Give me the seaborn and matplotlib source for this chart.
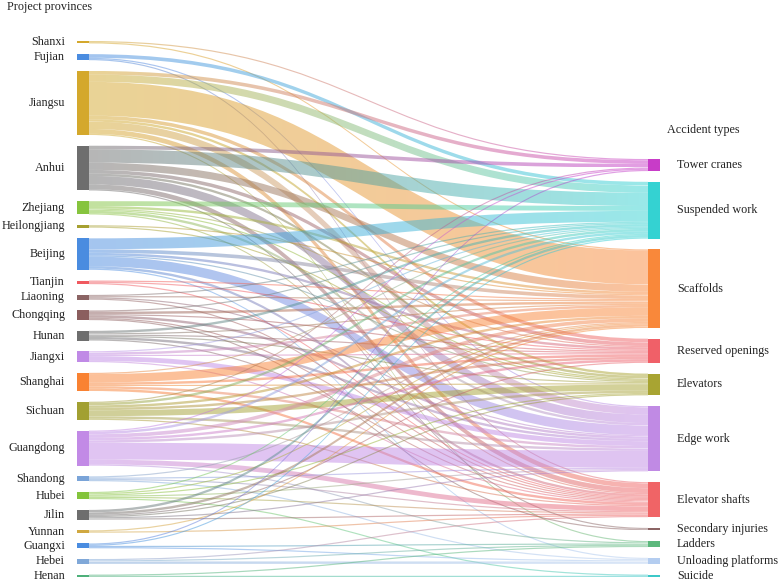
import numpy as np
import pandas as pd
import matplotlib.pyplot as plt
import seaborn as sns
from matplotlib.path import Path
from matplotlib.patches import PathPatch, Rectangle
from matplotlib.colors import to_rgb

# ---------------------------------
# Data
# ---------------------------------

provinces = ["Shanxi", "Fujian", "Jiangsu", "Anhui", "Zhejiang", "Heilongjiang",
             "Beijing", "Tianjin", "Liaoning", "Chongqing", "Hunan", "Jiangxi",
             "Shanghai", "Sichuan", "Guangdong", "Shandong", "Hubei", "Jilin",
             "Yunnan", "Guangxi", "Hebei", "Henan"]

province_colors = ["#d4a82c", "#4a8ce0", "#d4a82c", "#6e6e6e", "#86c43e", "#a6a030",
                   "#4a8ce0", "#f0595f", "#8b6464", "#8b5e5e", "#6e6e6e", "#c08ae6",
                   "#f98232", "#a2a032", "#c28ae6", "#7aa4d8", "#84c43c", "#6e6e6e",
                   "#d0a840", "#4a8ce0", "#80a8d8", "#4eb07a"]

accident_types = ["Tower cranes", "Suspended work", "Scaffolds", "Reserved openings",
                  "Elevators", "Edge work", "Elevator shafts", "Secondary injuries",
                  "Ladders", "Unloading platforms", "Suicide"]

accident_colors = ["#c83cc8", "#34d2d2", "#f9883a", "#f06068", "#a8a432", "#c08ae4",
                   "#f06466", "#8b6464", "#5cb87c", "#b4cdf0", "#3cc8c8"]

# rows: provinces, columns: accident types
flows = [
    [1, 0, 1, 0, 0, 0, 0, 0, 0, 0, 0],
    [0, 3, 0, 0, 0, 1, 1, 0, 0, 0, 0],
    [3, 6, 28, 3, 2, 6, 4, 0, 1, 0, 0],
    [3, 11, 6, 3, 2, 7, 4, 1, 0, 0, 0],
    [0, 4, 2, 1, 1, 2, 1, 0, 0, 0, 0],
    [0, 0, 1, 0, 1, 0, 0, 0, 0, 0, 0],
    [0, 9, 3, 2, 1, 8, 2, 0, 0, 1, 0],
    [0, 0, 1, 1, 0, 0, 1, 0, 0, 0, 0],
    [0, 1, 1, 0, 0, 1, 1, 0, 0, 0, 0],
    [0, 1, 2, 1, 0, 2, 1, 1, 0, 0, 0],
    [0, 2, 1, 1, 1, 2, 1, 0, 0, 0, 0],
    [0, 1, 2, 1, 0, 4, 1, 0, 0, 0, 0],
    [0, 1, 7, 2, 1, 2, 2, 0, 0, 0, 0],
    [1, 2, 2, 2, 5, 2, 1, 0, 0, 0, 0],
    [1, 2, 3, 2, 2, 14, 4, 0, 1, 0, 0],
    [0, 0, 1, 0, 0, 1, 1, 0, 0, 1, 0],
    [0, 1, 1, 0, 1, 1, 1, 0, 0, 0, 1],
    [0, 2, 2, 1, 1, 1, 1, 0, 0, 0, 0],
    [0, 0, 1, 0, 0, 0, 1, 0, 0, 0, 0],
    [1, 1, 0, 0, 0, 0, 0, 0, 1, 1, 0],
    [0, 0, 0, 0, 0, 0, 1, 0, 1, 2, 0],
    [0, 0, 0, 0, 0, 0, 0, 0, 1, 0, 1],
]

# ---------------------------------
# Style
# ---------------------------------

sns.set_theme(style="white")
plt.rcParams["font.family"] = ["Liberation Serif", "DejaVu Serif"]

df = pd.DataFrame(flows, index=provinces, columns=accident_types)

fig = plt.figure(figsize=(7.81, 5.88), dpi=100)
ax = fig.add_axes([0, 0, 1, 1])
ax.set_xlim(0, 781)
ax.set_ylim(588, 0)
ax.axis("off")

# ---------------------------------
# Layout
# ---------------------------------

left_x, right_x, node_w = 77, 648, 12
top, bottom, right_top = 41, 577, 159

src_tot = df.sum(axis=1)
tgt_tot = df.sum(axis=0)
n_l, n_r = len(provinces), len(accident_types)

gap = ((bottom - top) - (bottom - right_top)) / (n_l - n_r)
ky = ((bottom - top) - (n_l - 1) * gap) / src_tot.sum()

left_y = {}
y = top
for p in provinces:
    left_y[p] = y
    y += src_tot[p] * ky + gap

right_y = {}
y = bottom - (tgt_tot.sum() * ky + (n_r - 1) * gap)
for a in accident_types:
    right_y[a] = y
    y += tgt_tot[a] * ky + gap

# ---------------------------------
# Links (gradient source -> target)
# ---------------------------------

src_off = {p: left_y[p] for p in provinces}
tgt_off = {a: right_y[a] for a in accident_types}
band_in = {}
for j, a in enumerate(accident_types):
    for i, p in enumerate(provinces):
        v = df.loc[p, a]
        if v > 0:
            band_in[(p, a)] = tgt_off[a]
            tgt_off[a] += v * ky

grad = np.linspace(0, 1, 80)
x0 = left_x + node_w
x1 = right_x
xm = (x0 + x1) / 2

for i, p in enumerate(provinces):
    for j, a in enumerate(accident_types):
        v = df.loc[p, a]
        if v <= 0:
            continue
        w = v * ky
        ys = src_off[p]
        src_off[p] += w
        yt = band_in[(p, a)]
        verts = [(x0, ys), (xm, ys), (xm, yt), (x1, yt),
                 (x1, yt + w), (xm, yt + w), (xm, ys + w), (x0, ys + w), (x0, ys)]
        codes = [Path.MOVETO, Path.CURVE4, Path.CURVE4, Path.CURVE4,
                 Path.LINETO, Path.CURVE4, Path.CURVE4, Path.CURVE4, Path.CLOSEPOLY]
        patch = PathPatch(Path(verts, codes), facecolor="none", edgecolor="none")
        ax.add_patch(patch)

        c0 = np.array(to_rgb(province_colors[i]))
        c1 = np.array(to_rgb(accident_colors[j]))
        img = np.zeros((1, len(grad), 4))
        img[0, :, :3] = (1 - grad)[:, None] * c0 + grad[:, None] * c1
        img[0, :, 3] = 0.5
        ylo, yhi = min(ys, yt), max(ys, yt) + w
        im = ax.imshow(img, extent=[x0, x1, yhi, ylo], aspect="auto",
                       interpolation="bilinear", zorder=1)
        im.set_clip_path(patch)

ax.set_xlim(0, 781)
ax.set_ylim(588, 0)

# ---------------------------------
# Nodes and labels
# ---------------------------------

for i, p in enumerate(provinces):
    h = src_tot[p] * ky
    ax.add_patch(Rectangle((left_x, left_y[p]), node_w, h,
                           facecolor=province_colors[i], edgecolor="none", zorder=3))
    ax.text(65, left_y[p] + h / 2, p, ha="right", va="center",
            fontsize=8.7, color="#222222")

for j, a in enumerate(accident_types):
    h = tgt_tot[a] * ky
    ax.add_patch(Rectangle((right_x, right_y[a]), node_w, h,
                           facecolor=accident_colors[j], edgecolor="none", zorder=3))
    ax.text(677, right_y[a] + h / 2, a, ha="left", va="center",
            fontsize=8.7, color="#222222")

ax.text(7, 7, "Project provinces", ha="left", va="center", fontsize=8.7, color="#222222")
ax.text(667, 130, "Accident types", ha="left", va="center", fontsize=8.7, color="#222222")

fig.savefig("out.png", dpi=100)
